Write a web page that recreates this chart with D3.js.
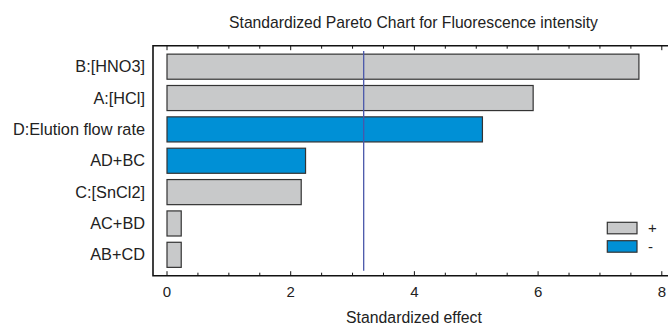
<!DOCTYPE html>
<html><head><meta charset="utf-8">
<script src="https://cdn.jsdelivr.net/npm/d3@7"></script>
<style>body{margin:0;background:#fff}svg{display:block}text{font-family:"Liberation Sans",Arial,sans-serif}</style>
</head><body>
<svg id="c" width="668" height="326"></svg>
<script>
const categories = ["B:[HNO3]","A:[HCl]","D:Elution flow rate","AD+BC","C:[SnCl2]","AC+BD","AB+CD"];
const effects = [7.63, 5.92, 5.10, 2.24, 2.17, 0.23, 0.23];
const signs = ["+","+","-","-","+","+","+"];
const xTicks = [0,2,4,6,8];
const criticalValue = 3.18;
const legendItems = ["+","-"];

(function(){
const svg = d3.select("#c");
const colors = {"+":"#c8c9ca","-":"#0090d6"};
const x = d3.scaleLinear().domain([0,8]).range([167,661.8]);
const y = d3.scaleBand().domain(categories).range([51,270.5]).paddingInner(0.2).paddingOuter(0.1);
const fLeft = 153, fRight = 668, fTop = 45.7, fBottom = 275.7;

svg.append("text").attr("x",413.5).attr("y",27.5).attr("text-anchor","middle").attr("font-size",15.7).attr("fill","#222")
  .text("Standardized Pareto Chart for Fluorescence intensity");

svg.append("path").attr("d",`M${fRight},${fTop}H${fLeft}V${fBottom}H${fRight}`).attr("fill","none").attr("stroke","#111").attr("stroke-width",1.6);

const minor = d3.range(0,8.01,0.5);
minor.forEach(v=>{
  const major = Number.isInteger(v/2);
  const len = major?4.5:3;
  svg.append("line").attr("x1",x(v)).attr("x2",x(v)).attr("y1",fBottom).attr("y2",fBottom-len).attr("stroke","#111").attr("stroke-width",1);
  svg.append("line").attr("x1",x(v)).attr("x2",x(v)).attr("y1",fTop).attr("y2",fTop+len).attr("stroke","#111").attr("stroke-width",1);
});
xTicks.forEach(v=>{
  svg.append("text").attr("x",x(v)).attr("y",297).attr("text-anchor","middle").attr("font-size",15).attr("fill","#222").text(v);
});
svg.append("text").attr("x",414).attr("y",322.5).attr("text-anchor","middle").attr("font-size",15.8).attr("fill","#222").text("Standardized effect");

svg.selectAll("rect.bar").data(categories).join("rect").attr("class","bar")
  .attr("x",x(0)).attr("y",d=>y(d)).attr("height",y.bandwidth())
  .attr("width",(d,i)=>x(effects[i])-x(0))
  .attr("fill",(d,i)=>colors[signs[i]]).attr("stroke","#333").attr("stroke-width",1.2);

svg.selectAll("text.lab").data(categories).join("text").attr("class","lab")
  .attr("x",145).attr("y",d=>y(d)+y.bandwidth()/2+5.5).attr("text-anchor","end").attr("font-size",16.3).attr("fill","#222").text(d=>d);

svg.append("line").attr("x1",x(criticalValue)).attr("x2",x(criticalValue)).attr("y1",51).attr("y2",270.7)
  .attr("stroke","#4a57aa").attr("stroke-width",1.3);

legendItems.forEach((s,i)=>{
  const ly = 222.3 + i*18.4;
  svg.append("rect").attr("x",607.3).attr("y",ly).attr("width",29.7).attr("height",11.5).attr("fill",colors[s]).attr("stroke","#333").attr("stroke-width",1.2);
  svg.append("text").attr("x",648).attr("y",ly+11).attr("font-size",15).attr("fill","#222").text(s);
});
})();
</script>
</body></html>
